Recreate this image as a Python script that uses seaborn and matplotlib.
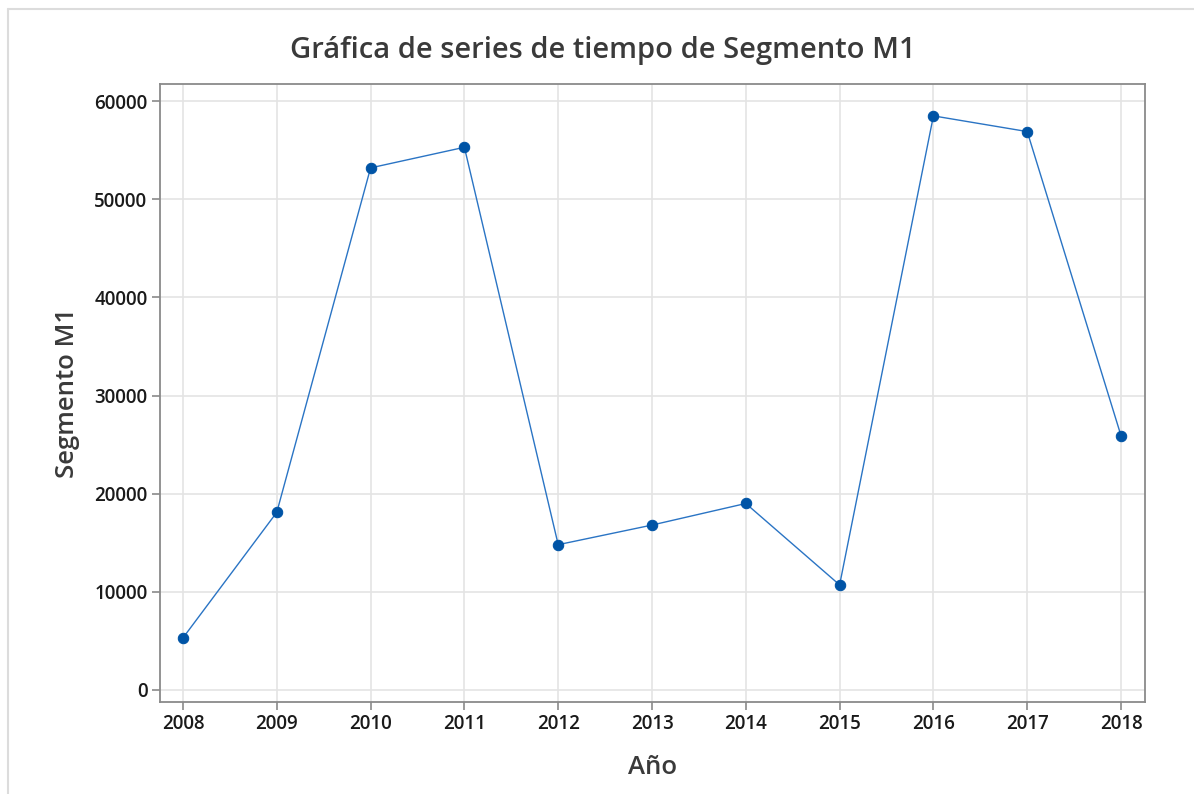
import pandas as pd
import matplotlib.pyplot as plt
import seaborn as sns
from matplotlib.lines import Line2D

years = [2008, 2009, 2010, 2011, 2012, 2013, 2014, 2015, 2016, 2017, 2018]
segmento_m1 = [5300, 18100, 53200, 55300, 14800, 16800, 19000, 10700, 58500, 56900, 25900]

df = pd.DataFrame({"Año": years, "Segmento M1": segmento_m1})

sns.set_style("whitegrid")
plt.rcParams['font.family'] = ['Open Sans', 'DejaVu Sans']

fig = plt.figure(figsize=(11.94, 7.94), dpi=100)
ax = fig.add_axes([0.134, 0.116, 0.825, 0.778])

sns.lineplot(data=df, x="Año", y="Segmento M1", ax=ax, color="#2a74c4",
             linewidth=1.0, marker="o", markersize=7.5,
             markerfacecolor="#0054a6", markeredgecolor="#0054a6")

ax.set_xlim(2007.755, 2018.256)
ax.set_ylim(-1222, 61732)
ax.set_xticks(years)
ax.set_yticks(range(0, 60001, 10000))

ax.grid(True, color="#e4e4e4", linewidth=1.2)
for s in ax.spines.values():
    s.set_color("#8a8a8a")
    s.set_linewidth(1.3)
ax.tick_params(axis="both", which="major", bottom=True, left=True, direction="out",
               length=6, width=1.2, color="#8a8a8a",
               labelsize=13.5, labelcolor="#1a1a1a", pad=3)
for lab in ax.get_xticklabels() + ax.get_yticklabels():
    lab.set_fontweight("semibold")

ax.set_xlabel("Año", fontsize=18.5, color="#3a3a3a", labelpad=15, fontweight="semibold")
ax.set_ylabel("Segmento M1", fontsize=18.5, color="#3a3a3a", labelpad=10, fontweight="semibold")
fig.suptitle("Gráfica de series de tiempo de Segmento M1", x=0.505, y=0.955,
             fontsize=21, color="#3a3a3a", fontweight="semibold")

# thin frame lines at the top and left of the picture
fig.add_artist(Line2D([8/1194, 1], [1 - 9/794, 1 - 9/794], color="#dcdcdc", linewidth=1.5))
fig.add_artist(Line2D([8/1194, 8/1194], [0, 1 - 9/794], color="#dcdcdc", linewidth=1.5))

plt.savefig("out.png", dpi=100)
